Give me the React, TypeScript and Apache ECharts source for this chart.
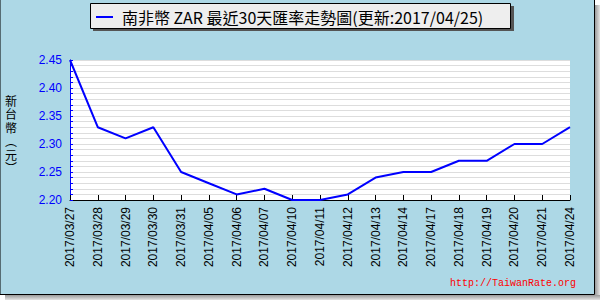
import React, { useEffect, useRef } from "react";
import * as echarts from "echarts";

const dates = [
  "2017/03/27", "2017/03/28", "2017/03/29", "2017/03/30", "2017/03/31",
  "2017/04/05", "2017/04/06", "2017/04/07", "2017/04/10", "2017/04/11",
  "2017/04/12", "2017/04/13", "2017/04/14", "2017/04/17", "2017/04/18",
  "2017/04/19", "2017/04/20", "2017/04/21", "2017/04/24",
];
const rates = [
  2.45, 2.33, 2.31, 2.33, 2.25, 2.23, 2.21, 2.22, 2.2, 2.2,
  2.21, 2.24, 2.25, 2.25, 2.27, 2.27, 2.3, 2.3, 2.33,
];
const seriesName = "南非幣 ZAR 最近30天匯率走勢圖(更新:2017/04/25)";
const yAxisTitleChars = ["新", "台", "幣", "︵", "元", "︶"];
const watermark = "http://TaiwanRate.org";
const yMin = 2.2;
const yMax = 2.45;
const yStep = 0.01;

export default function App() {
  const ref = useRef<HTMLDivElement>(null);
  useEffect(() => {
    if (!ref.current) return;
    const chart = echarts.init(ref.current, null, { renderer: "svg" });
    const titleEls = yAxisTitleChars.map((ch, i) => ({
      type: "text",
      silent: true,
      x: 11,
      y: 100 + i * 13.5,
      style: {
        text: ch,
        fill: "#000000",
        font: '12px "Noto Sans CJK TC"',
        lineHeight: 13,
        align: "center",
        verticalAlign: "middle",
      },
    }));
    chart.setOption({
      animation: false,
      backgroundColor: "#ffffff",
      graphic: [
        {
          type: "rect", z: -100, silent: true,
          shape: { x: 595, y: 5, width: 5, height: 295 },
          style: { fill: new echarts.graphic.LinearGradient(0, 0, 1, 0, [
            { offset: 0, color: "#9a9a9a" }, { offset: 1, color: "#e4e4e4" }]) },
        },
        {
          type: "rect", z: -100, silent: true,
          shape: { x: 5, y: 295, width: 595, height: 5 },
          style: { fill: new echarts.graphic.LinearGradient(0, 0, 0, 1, [
            { offset: 0, color: "#9a9a9a" }, { offset: 1, color: "#e4e4e4" }]) },
        },
        {
          type: "rect", z: -90, silent: true,
          shape: { x: 0, y: -2, width: 594.5, height: 296.5 },
          style: { fill: "#add8e6", stroke: "#000000", lineWidth: 1 },
        },
        {
          type: "rect", z: -80, silent: true,
          shape: { x: 93, y: 6, width: 421, height: 25 },
          style: { fill: "#555555" },
        },
        {
          type: "rect", z: -70, silent: true,
          shape: { x: 90.5, y: 3.5, width: 420, height: 25 },
          style: { fill: "#eeeeee", stroke: "#000000", lineWidth: 1 },
        },
        ...titleEls,
        {
          type: "text", silent: true,
          x: 576, y: 283,
          style: {
            text: watermark,
            fill: "#ff0000",
            font: '10px "Liberation Mono"',
            align: "right",
            verticalAlign: "middle",
          },
        },
      ],
      legend: {
        show: true,
        left: 96,
        top: 9,
        padding: 0,
        icon: "rect",
        itemWidth: 17,
        itemHeight: 2,
        textStyle: {
          color: "#000000",
          fontSize: 16,
          fontFamily: '"Noto Sans CJK TC"',
          padding: [0, 0, 0, 4],
        },
        data: [seriesName],
      },
      grid: {
        left: 70,
        right: 30,
        top: 60,
        bottom: 100,
        show: true,
        backgroundColor: "#ffffff",
        borderWidth: 0,
      },
      xAxis: {
        type: "category",
        data: dates,
        boundaryGap: false,
        axisLine: { lineStyle: { color: "#000000", width: 1 } },
        axisTick: { inside: true, length: 5, lineStyle: { color: "#000000" }, interval: 0 },
        axisLabel: {
          rotate: 90,
          interval: 0,
          margin: 7,
          color: "#000000",
          fontSize: 12,
          fontFamily: '"Liberation Sans"',
        },
        splitLine: { show: false },
      },
      yAxis: {
        type: "value",
        min: yMin,
        max: yMax,
        interval: yStep,
        axisLine: { show: true, lineStyle: { color: "#0000ff", width: 1 } },
        axisTick: { show: true, inside: true, length: 3, lineStyle: { color: "#0000ff" } },
        axisLabel: {
          color: "#0000ff",
          fontSize: 12,
          fontFamily: '"Liberation Sans"',
          margin: 8,
          formatter: (v: number) => (Math.round(v * 100) % 5 === 0 ? v.toFixed(2) : ""),
        },
        splitLine: { show: true, lineStyle: { color: "#dddddd", width: 1 } },
      },
      series: [
        {
          name: seriesName,
          type: "line",
          data: rates,
          showSymbol: false,
          symbol: "none",
          lineStyle: { color: "#0000ff", width: 2 },
          itemStyle: { color: "#0000ff" },
        },
      ],
    });
    return () => chart.dispose();
  }, []);
  return (
    <div
      ref={ref}
      style={{ position: "fixed", left: 0, top: 0, width: 600, height: 300 }}
    />
  );
}
